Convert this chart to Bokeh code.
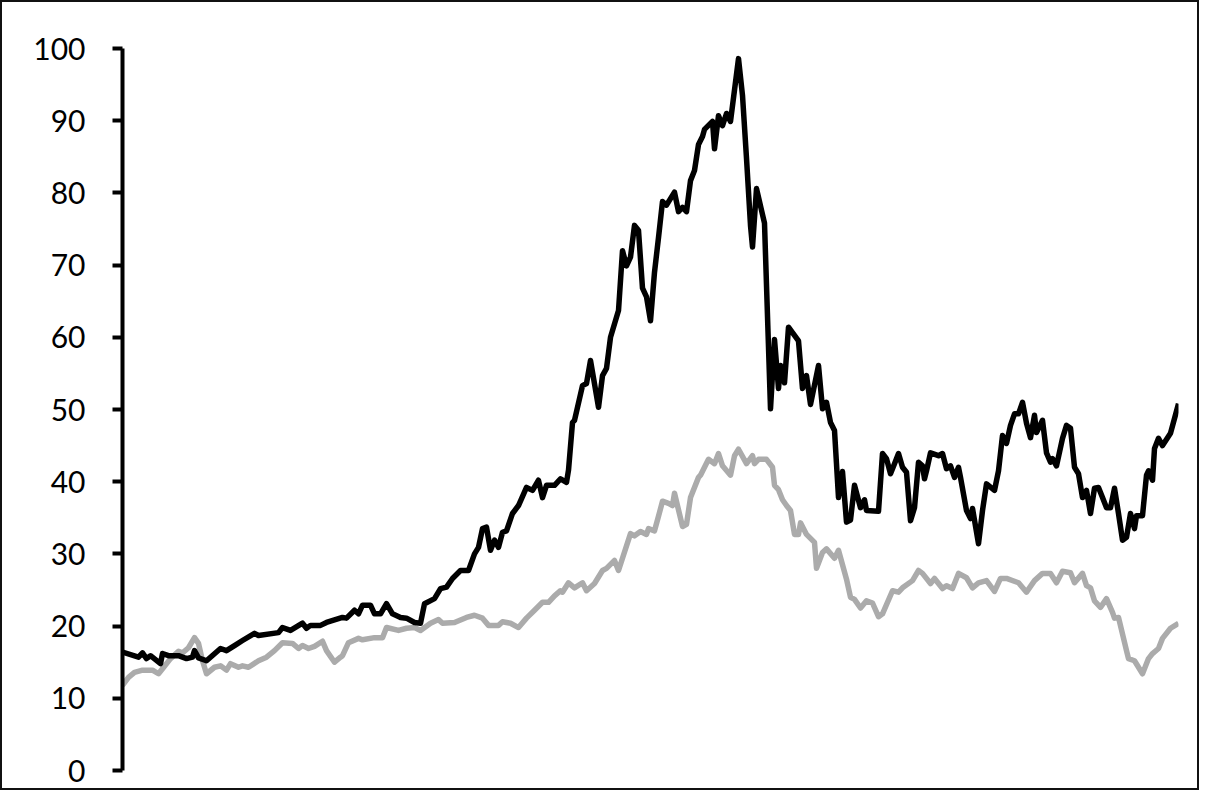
from bokeh.plotting import figure
from bokeh.models import Range1d, FixedTicker
from bokeh.embed import file_html
from bokeh.resources import INLINE

# Time index (half-month steps) and values
black_t = [0, 8, 10, 12, 14, 19, 20, 23, 28, 32, 35, 36, 38, 42, 49, 52, 56, 60, 66, 68,
           78, 80, 84, 90, 92, 94, 99, 102, 110, 112, 116, 118, 120, 124, 126, 129, 132, 135, 139, 142,
           146, 149, 151, 156, 159, 162, 165, 169, 173, 176, 178, 180, 182, 184, 186, 188, 190, 192, 195, 198,
           202, 205, 208, 210, 212, 216, 219, 222, 223, 225, 226, 230, 232, 234, 238, 240, 242, 244, 248, 250,
           252, 254, 256, 258, 260, 262, 264, 266, 268, 270, 272, 276, 278, 280, 282, 284, 286, 288, 290, 291,
           295, 296, 298, 300, 302, 304, 308, 310, 312, 314, 315, 317, 321, 324, 326, 328, 329, 331, 333, 338,
           340, 342, 344, 348, 350, 352, 354, 356, 358, 360, 362, 364, 366, 369, 371, 372, 378, 380, 382, 384,
           386, 388, 390, 392, 394, 396, 398, 400, 401, 402, 404, 408, 410, 412, 414, 416, 418, 419, 422, 424,
           425, 428, 430, 432, 436, 438, 440, 442, 444, 446, 448, 450, 452, 454, 456, 457, 460, 462, 464, 465,
           467, 470, 472, 474, 476, 478, 480, 482, 484, 486, 488, 490, 492, 494, 496, 498, 500, 502, 504, 506,
           507, 510, 512, 513, 515, 516, 518, 520, 524, 528]
black_v = [16.4, 15.7, 16.3, 15.5, 15.9, 14.8, 16.2, 15.9, 15.9, 15.5, 15.7, 16.6, 15.6, 15.2, 16.9, 16.6, 17.3, 18.0, 19.0, 18.7,
           19.1, 19.8, 19.4, 20.4, 19.7, 20.1, 20.1, 20.5, 21.2, 21.1, 22.2, 21.7, 22.9, 22.9, 21.7, 21.7, 23.1, 21.7, 21.2, 21.1,
           20.5, 20.4, 23.1, 23.8, 25.2, 25.4, 26.6, 27.7, 27.7, 30.0, 30.9, 33.5, 33.7, 30.5, 31.9, 30.9, 33.0, 33.2, 35.6, 36.7,
           39.2, 38.8, 40.2, 37.8, 39.5, 39.5, 40.4, 39.9, 41.6, 48.2, 48.5, 53.3, 53.6, 56.8, 50.3, 54.7, 55.7, 60.0, 63.7, 72.0,
           69.9, 71.1, 75.5, 74.8, 66.8, 65.6, 62.3, 69.0, 73.8, 78.8, 78.3, 80.1, 77.4, 78.0, 77.4, 81.7, 83.1, 86.7, 87.8, 88.8,
           89.9, 86.1, 90.7, 89.3, 91.0, 89.9, 98.6, 93.5, 84.8, 75.5, 72.5, 80.6, 75.8, 50.1, 59.7, 52.9, 56.1, 53.7, 61.4, 59.5,
           52.9, 54.7, 50.7, 56.1, 50.1, 51.0, 48.2, 47.1, 37.8, 41.4, 34.4, 34.7, 39.5, 36.4, 37.5, 36.0, 35.9, 43.9, 43.2, 41.1,
           42.5, 43.9, 42.0, 41.3, 34.6, 36.4, 42.7, 42.2, 40.4, 41.5, 44.0, 43.6, 43.9, 41.8, 42.2, 40.6, 42.0, 40.6, 36.0, 34.9,
           36.3, 31.4, 36.0, 39.7, 38.8, 41.5, 46.4, 45.3, 47.8, 49.4, 49.4, 51.0, 48.1, 46.1, 49.2, 46.8, 48.5, 44.0, 42.7, 43.2,
           42.2, 46.0, 47.8, 47.4, 42.0, 41.1, 37.8, 38.8, 35.6, 39.1, 39.2, 37.8, 36.4, 36.4, 39.1, 35.6, 31.9, 32.3, 35.6, 33.5,
           35.3, 35.3, 40.9, 41.5, 40.2, 44.6, 46.0, 45.0, 46.7, 50.8]

gray_t = [0, 3, 6, 10, 15, 18, 20, 24, 28, 30, 33, 36, 38, 40, 42, 46, 49, 52, 54, 58,
          60, 63, 68, 72, 76, 80, 85, 88, 90, 93, 96, 100, 102, 106, 109, 110, 113, 118, 120, 126,
          130, 132, 138, 142, 146, 149, 154, 158, 160, 166, 172, 176, 180, 183, 188, 190, 194, 198, 202, 206,
          210, 213, 216, 219, 220, 223, 226, 230, 232, 236, 240, 242, 246, 248, 254, 256, 259, 262, 263, 266,
          268, 270, 273, 275, 276, 280, 282, 284, 288, 289, 293, 296, 298, 300, 304, 306, 308, 312, 315, 316,
          318, 322, 325, 326, 328, 330, 332, 334, 336, 338, 339, 342, 346, 347, 350, 352, 356, 358, 360, 362,
          364, 366, 369, 372, 375, 378, 380, 385, 388, 390, 395, 398, 400, 404, 406, 410, 412, 415, 418, 422,
          425, 428, 432, 436, 439, 442, 448, 452, 456, 460, 464, 467, 470, 474, 476, 480, 482, 484, 486, 489,
          492, 495, 496, 498, 502, 503, 506, 510, 513, 515, 518, 520, 524, 528]
gray_v = [11.8, 12.9, 13.6, 13.9, 13.9, 13.4, 14.1, 15.5, 16.5, 16.3, 17.0, 18.4, 17.6, 15.2, 13.4, 14.3, 14.5, 13.9, 14.8, 14.3,
          14.5, 14.3, 15.2, 15.7, 16.6, 17.7, 17.6, 16.9, 17.3, 16.9, 17.2, 17.9, 16.6, 15.0, 15.7, 15.9, 17.7, 18.3, 18.1, 18.4,
          18.4, 19.8, 19.4, 19.7, 19.8, 19.4, 20.4, 20.9, 20.4, 20.5, 21.2, 21.5, 21.1, 20.1, 20.1, 20.6, 20.4, 19.8, 21.1, 22.2,
          23.3, 23.3, 24.2, 24.9, 24.7, 26.0, 25.3, 26.0, 24.9, 25.9, 27.7, 28.0, 29.1, 27.7, 32.8, 32.5, 33.1, 32.7, 33.5, 33.2,
          35.2, 37.3, 37.0, 36.7, 38.4, 33.8, 34.1, 37.8, 40.6, 40.9, 43.1, 42.5, 43.9, 42.2, 40.9, 43.6, 44.5, 42.5, 43.6, 42.5,
          43.1, 43.1, 42.0, 39.5, 38.9, 37.5, 36.7, 36.0, 32.7, 32.7, 34.3, 32.7, 31.6, 28.0, 30.2, 30.7, 29.4, 30.5, 28.5, 26.5,
          24.0, 23.7, 22.5, 23.5, 23.2, 21.3, 21.7, 24.9, 24.7, 25.3, 26.3, 27.7, 27.3, 25.9, 26.6, 25.2, 25.6, 25.2, 27.3, 26.7,
          25.3, 26.0, 26.3, 24.8, 26.6, 26.6, 26.0, 24.7, 26.3, 27.3, 27.3, 26.0, 27.6, 27.4, 26.0, 27.3, 25.6, 25.3, 23.5, 22.6,
          23.8, 21.9, 21.1, 21.2, 16.6, 15.5, 15.2, 13.4, 15.5, 16.2, 16.9, 18.3, 19.7, 20.4]

y_ticks = [0, 10, 20, 30, 40, 50, 60, 70, 80, 90, 100]

p = figure(width=1199, height=790, output_backend="svg", toolbar_location=None,
           x_range=Range1d(0, 528), y_range=Range1d(0, 100))
p.styles = {"border": "2px solid #111"}
p.min_border_left = 120
p.min_border_right = 23
p.min_border_top = 46
p.min_border_bottom = 22
p.outline_line_color = None
p.grid.visible = False
p.xaxis.visible = False
p.background_fill_color = "white"
p.border_fill_color = "white"

ax = p.yaxis[0]
ax.ticker = FixedTicker(ticks=y_ticks)
ax.axis_line_width = 4
ax.axis_line_color = "black"
ax.major_tick_line_width = 4
ax.major_tick_line_color = "black"
ax.major_tick_out = 10
ax.major_tick_in = 0
ax.minor_tick_line_color = None
ax.major_label_text_font = "Lato"
ax.major_label_text_font_size = "30px"
ax.major_label_text_color = "black"
ax.major_label_standoff = 27

p.line(gray_t, gray_v, line_color="#ababab", line_width=5.5, line_join="round")
p.line(black_t, black_v, line_color="black", line_width=5.5, line_join="round")

open("out.html", "w").write(file_html(p, INLINE))
